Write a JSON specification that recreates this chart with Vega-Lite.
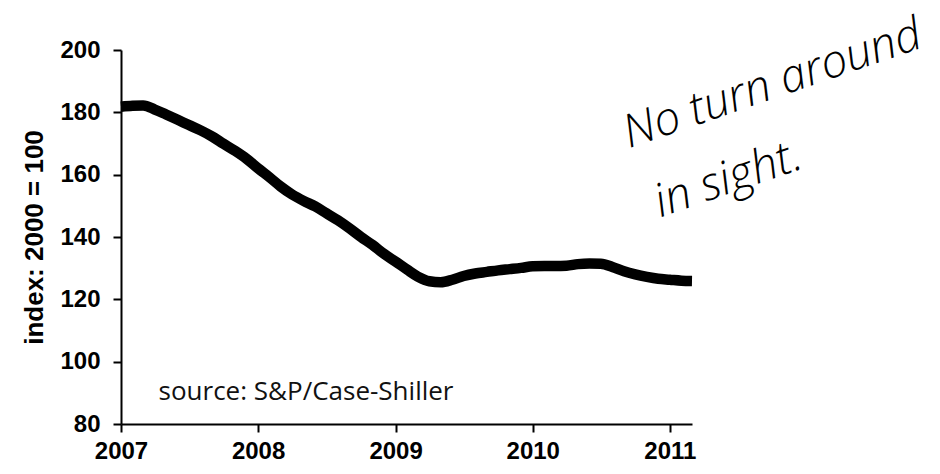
{
  "$schema": "https://vega.github.io/schema/vega-lite/v6.json",
  "autosize": {"type": "none"},
  "width": 571,
  "height": 374,
  "padding": {"left": 121, "top": 50, "right": 248, "bottom": 50},
  "background": "white",
  "config": {"view": {"stroke": null}},
  "datasets": {
    "hpi": [
      {"date": "2007-01-01", "index": 181.8},
      {"date": "2007-02-01", "index": 182.1},
      {"date": "2007-03-01", "index": 182.2},
      {"date": "2007-04-01", "index": 180.9},
      {"date": "2007-05-01", "index": 179.3},
      {"date": "2007-06-01", "index": 177.6},
      {"date": "2007-07-01", "index": 175.9},
      {"date": "2007-08-01", "index": 174.2},
      {"date": "2007-09-01", "index": 172.2},
      {"date": "2007-10-01", "index": 169.9},
      {"date": "2007-11-01", "index": 167.6},
      {"date": "2007-12-01", "index": 165.1},
      {"date": "2008-01-01", "index": 162.0},
      {"date": "2008-02-01", "index": 159.1},
      {"date": "2008-03-01", "index": 156.2},
      {"date": "2008-04-01", "index": 153.6},
      {"date": "2008-05-01", "index": 151.6},
      {"date": "2008-06-01", "index": 149.8},
      {"date": "2008-07-01", "index": 147.6},
      {"date": "2008-08-01", "index": 145.3},
      {"date": "2008-09-01", "index": 142.7},
      {"date": "2008-10-01", "index": 140.0},
      {"date": "2008-11-01", "index": 137.4},
      {"date": "2008-12-01", "index": 134.6},
      {"date": "2009-01-01", "index": 132.1},
      {"date": "2009-02-01", "index": 129.5},
      {"date": "2009-03-01", "index": 127.3},
      {"date": "2009-04-01", "index": 125.8},
      {"date": "2009-05-01", "index": 125.5},
      {"date": "2009-06-01", "index": 126.3},
      {"date": "2009-07-01", "index": 127.5},
      {"date": "2009-08-01", "index": 128.3},
      {"date": "2009-09-01", "index": 128.8},
      {"date": "2009-10-01", "index": 129.3},
      {"date": "2009-11-01", "index": 129.7},
      {"date": "2009-12-01", "index": 130.1},
      {"date": "2010-01-01", "index": 130.6},
      {"date": "2010-02-01", "index": 130.7},
      {"date": "2010-03-01", "index": 130.7},
      {"date": "2010-04-01", "index": 130.8},
      {"date": "2010-05-01", "index": 131.3},
      {"date": "2010-06-01", "index": 131.5},
      {"date": "2010-07-01", "index": 131.4},
      {"date": "2010-08-01", "index": 130.4},
      {"date": "2010-09-01", "index": 129.0},
      {"date": "2010-10-01", "index": 128.0},
      {"date": "2010-11-01", "index": 127.2},
      {"date": "2010-12-01", "index": 126.6},
      {"date": "2011-01-01", "index": 126.3},
      {"date": "2011-02-01", "index": 126.0},
      {"date": "2011-03-01", "index": 125.9}
    ],
    "notes": [
      {"date": "2011-10-01", "index": 189.0, "label": "No turn around"},
      {"date": "2011-06-05", "index": 158.5, "label": "in sight."}
    ],
    "source": [
      {"date": "2007-04-11", "index": 90.3, "label": "source:  S&P/Case-Shiller"}
    ]
  },
  "layer": [
    {
      "data": {"name": "hpi"},
      "mark": {"type": "line", "color": "black", "strokeWidth": 10.5, "interpolate": "monotone", "strokeCap": "butt", "strokeJoin": "round", "clip": false},
      "encoding": {
        "x": {
          "field": "date",
          "type": "temporal",
          "scale": {"type": "utc", "domain": [{"year": 2007, "month": 1, "date": 1, "utc": true}, {"year": 2011, "month": 3, "date": 1, "utc": true}]},
          "axis": {
            "title": null,
            "values": [
              {"year": 2007, "month": 1, "date": 1, "utc": true},
              {"year": 2008, "month": 1, "date": 1, "utc": true},
              {"year": 2009, "month": 1, "date": 1, "utc": true},
              {"year": 2010, "month": 1, "date": 1, "utc": true},
              {"year": 2011, "month": 1, "date": 1, "utc": true}
            ],
            "format": "%Y",
            "grid": false,
            "domainColor": "black",
            "domainWidth": 2,
            "tickColor": "black",
            "tickWidth": 2,
            "tickSize": 8,
            "labelColor": "black",
            "labelFont": "Liberation Sans",
            "labelFontWeight": "bold",
            "labelFontSize": 24,
            "labelPadding": 7,
            "labelFlush": false
          }
        },
        "y": {
          "field": "index",
          "type": "quantitative",
          "scale": {"domain": [80, 200], "nice": false, "zero": false},
          "axis": {
            "title": "index: 2000 = 100",
            "titleFont": "Liberation Sans",
            "titleFontSize": 26,
            "titleFontWeight": "bold",
            "titleColor": "black",
            "titlePadding": 12,
            "values": [80, 100, 120, 140, 160, 180, 200],
            "grid": false,
            "domainColor": "black",
            "domainWidth": 2,
            "tickColor": "black",
            "tickWidth": 2,
            "tickSize": 8,
            "labelColor": "black",
            "labelFont": "Liberation Sans",
            "labelFontWeight": "bold",
            "labelFontSize": 24,
            "labelPadding": 13
          }
        }
      }
    },
    {
      "data": {"name": "source"},
      "mark": {"type": "text", "align": "left", "baseline": "middle", "font": "Open Sans", "fontSize": 26, "color": "#111"},
      "encoding": {
        "x": {"field": "date", "type": "temporal"},
        "y": {"field": "index", "type": "quantitative"},
        "text": {"field": "label"}
      }
    },
    {
      "data": {"name": "notes"},
      "mark": {"type": "text", "align": "center", "baseline": "middle", "font": "Open Sans", "fontStyle": "italic", "fontWeight": 300, "fontSize": 46, "angle": 341, "color": "black", "clip": false},
      "encoding": {
        "x": {"field": "date", "type": "temporal"},
        "y": {"field": "index", "type": "quantitative"},
        "text": {"field": "label"}
      }
    }
  ]
}
